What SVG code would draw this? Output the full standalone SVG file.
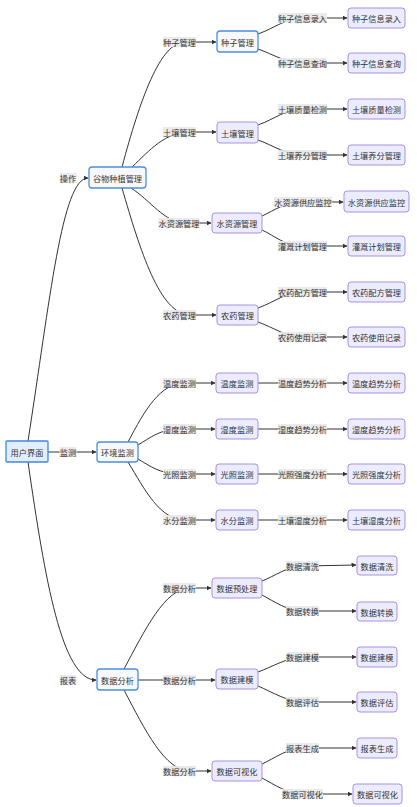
<svg xmlns="http://www.w3.org/2000/svg" width="417" height="807" viewBox="0 0 417 807">
<defs>
<marker id="arr" viewBox="0 0 10 10" refX="9" refY="5" markerWidth="5" markerHeight="5" markerUnits="userSpaceOnUse" orient="auto"><path d="M0,0 L10,5 L0,10 z" fill="#333"/></marker>
<style>
.e{fill:none;stroke:#333;stroke-width:1;marker-end:url(#arr)}
.n rect{fill:#ececff;stroke:#a990e3;stroke-width:1}
.b rect{fill:#f6f8fb;stroke:#4a8fe0;stroke-width:1.3}
.r rect{fill:#e2eeff;stroke:#3d88e8;stroke-width:1.3}
text{font-family:"Noto Sans CJK SC","Noto Sans",sans-serif;font-size:8.2px;fill:#333;text-anchor:middle;dominant-baseline:central}
.l rect{fill:#e8e8e8;opacity:0.9}
</style>
</defs>
<rect width="417" height="807" fill="#fff"/>
<g id="edges">
<path class="e" d="M28,441 C50,300 62,178 88,178"/>
<path class="e" d="M48,452 L96,452"/>
<path class="e" d="M28,462 C45,580 62,680 96,680"/>
<path class="e" d="M122,167 C140,100 160,42 185,42 L216,42"/>
<path class="e" d="M132,167 C150,150 165,132 190,132 L216,132"/>
<path class="e" d="M131,188 C150,200 165,223 185,223 L211,223"/>
<path class="e" d="M122,188 C140,250 160,315 190,315 L216,315"/>
<path class="e" d="M128,442 C145,410 160,383 185,383 L215,383"/>
<path class="e" d="M138,445 C150,438 160,429 180,429 L215,429"/>
<path class="e" d="M138,459 C150,466 160,474 180,474 L215,474"/>
<path class="e" d="M128,462 C145,490 160,520 185,520 L215,520"/>
<path class="e" d="M124,669 C145,630 165,588 190,588 L211,588"/>
<path class="e" d="M138,680 L215,680"/>
<path class="e" d="M124,690 C145,730 165,771 190,771 L211,771"/>
<path class="e" d="M258,34 C275,28 285,18 305,18 L347,18"/>
<path class="e" d="M258,49 C275,55 285,63 305,63 L347,63"/>
<path class="e" d="M258,125 C275,119 285,109 305,109 L347,109"/>
<path class="e" d="M258,140 C275,146 285,155 305,155 L347,155"/>
<path class="e" d="M262,216 C275,210 285,202 303,202 L343,202"/>
<path class="e" d="M262,230 C275,236 285,246 303,246 L347,246"/>
<path class="e" d="M258,308 C275,302 285,292 305,292 L347,292"/>
<path class="e" d="M258,322 C275,328 285,337 305,337 L347,337"/>
<path class="e" d="M258,383 L347,383"/>
<path class="e" d="M258,429 L347,429"/>
<path class="e" d="M258,474 L347,474"/>
<path class="e" d="M258,520 L347,520"/>
<path class="e" d="M262,581 C275,576 288,566 303,566 L356,565"/>
<path class="e" d="M262,595 C275,602 288,611 303,611 L356,611"/>
<path class="e" d="M258,672 C272,667 288,657 303,657 L356,657"/>
<path class="e" d="M258,686 C272,692 288,702 303,702 L356,702"/>
<path class="e" d="M262,764 C275,758 288,748 303,748 L356,748"/>
<path class="e" d="M262,778 C275,785 288,794 303,794 L352,794"/>
</g>
<g id="edge-labels">
<g class="l"><rect x="59.5" y="173" width="17" height="10"/><text x="68" y="178">操作</text></g>
<g class="l"><rect x="59.5" y="447" width="17" height="10"/><text x="68" y="452">监测</text></g>
<g class="l"><rect x="59.5" y="675" width="17" height="10"/><text x="68" y="680">报表</text></g>
<g class="l"><rect x="163" y="37" width="33" height="10"/><text x="179.5" y="42">种子管理</text></g>
<g class="l"><rect x="163" y="127" width="33" height="10"/><text x="179.5" y="132">土壤管理</text></g>
<g class="l"><rect x="158.5" y="218" width="41" height="10"/><text x="179" y="223">水资源管理</text></g>
<g class="l"><rect x="163" y="310" width="33" height="10"/><text x="179.5" y="315">农药管理</text></g>
<g class="l"><rect x="163" y="378" width="33" height="10"/><text x="179.5" y="383">温度监测</text></g>
<g class="l"><rect x="163" y="424" width="33" height="10"/><text x="179.5" y="429">湿度监测</text></g>
<g class="l"><rect x="163" y="469" width="33" height="10"/><text x="179.5" y="474">光照监测</text></g>
<g class="l"><rect x="163" y="515" width="33" height="10"/><text x="179.5" y="520">水分监测</text></g>
<g class="l"><rect x="163" y="583" width="33" height="10"/><text x="179.5" y="588">数据分析</text></g>
<g class="l"><rect x="163" y="675" width="33" height="10"/><text x="179.5" y="680">数据分析</text></g>
<g class="l"><rect x="163" y="766" width="33" height="10"/><text x="179.5" y="771">数据分析</text></g>
<g class="l"><rect x="278" y="13" width="49" height="10"/><text x="302.5" y="18">种子信息录入</text></g>
<g class="l"><rect x="278" y="58" width="49" height="10"/><text x="302.5" y="63">种子信息查询</text></g>
<g class="l"><rect x="278" y="104" width="49" height="10"/><text x="302.5" y="109">土壤质量检测</text></g>
<g class="l"><rect x="278" y="150" width="49" height="10"/><text x="302.5" y="155">土壤养分管理</text></g>
<g class="l"><rect x="274" y="197" width="58" height="10"/><text x="303" y="202">水资源供应监控</text></g>
<g class="l"><rect x="278" y="241" width="49" height="10"/><text x="302.5" y="246">灌溉计划管理</text></g>
<g class="l"><rect x="278" y="287" width="49" height="10"/><text x="302.5" y="292">农药配方管理</text></g>
<g class="l"><rect x="278" y="332" width="49" height="10"/><text x="302.5" y="337">农药使用记录</text></g>
<g class="l"><rect x="278" y="378" width="49" height="10"/><text x="302.5" y="383">温度趋势分析</text></g>
<g class="l"><rect x="278" y="424" width="49" height="10"/><text x="302.5" y="429">湿度趋势分析</text></g>
<g class="l"><rect x="278" y="469" width="49" height="10"/><text x="302.5" y="474">光照强度分析</text></g>
<g class="l"><rect x="278" y="515" width="49" height="10"/><text x="302.5" y="520">土壤湿度分析</text></g>
<g class="l"><rect x="286" y="561" width="33" height="10"/><text x="302.5" y="566">数据清洗</text></g>
<g class="l"><rect x="286" y="606" width="33" height="10"/><text x="302.5" y="611">数据转换</text></g>
<g class="l"><rect x="286" y="652" width="33" height="10"/><text x="302.5" y="657">数据建模</text></g>
<g class="l"><rect x="286" y="697" width="33" height="10"/><text x="302.5" y="702">数据评估</text></g>
<g class="l"><rect x="286" y="743" width="33" height="10"/><text x="302.5" y="748">报表生成</text></g>
<g class="l"><rect x="282" y="789" width="41" height="10"/><text x="302.5" y="794">数据可视化</text></g>
</g>
<g id="root" class="r"><rect x="6" y="441" width="42" height="21" rx="1"/><text x="27" y="451.5">用户界面</text></g>
<g id="n-gwzz" class="b"><rect x="89" y="167" width="57" height="21" rx="3"/><text x="117.5" y="177.5">谷物种植管理</text></g>
<g id="n-hjjc" class="b"><rect x="97" y="442" width="41" height="20" rx="3"/><text x="117.5" y="452">环境监测</text></g>
<g id="n-sjfx" class="b"><rect x="97" y="669" width="41" height="21" rx="3"/><text x="117.5" y="679.5">数据分析</text></g>
<g id="n-zzgl" class="b"><rect x="217" y="31" width="41" height="21" rx="3"/><text x="237.5" y="41.5">种子管理</text></g>
<g id="n-trgl" class="n"><rect x="217" y="122" width="41" height="21" rx="3"/><text x="237.5" y="132.5">土壤管理</text></g>
<g id="n-szygl" class="n"><rect x="212" y="213" width="50" height="20" rx="3"/><text x="237" y="223">水资源管理</text></g>
<g id="n-nygl" class="n"><rect x="217" y="305" width="41" height="20" rx="3"/><text x="237.5" y="315">农药管理</text></g>
<g id="n-wdjc" class="n"><rect x="216" y="373" width="42" height="20" rx="3"/><text x="237" y="383">温度监测</text></g>
<g id="n-sdjc" class="n"><rect x="216" y="419" width="42" height="20" rx="3"/><text x="237" y="429">湿度监测</text></g>
<g id="n-gzjc" class="n"><rect x="216" y="464" width="42" height="20" rx="3"/><text x="237" y="474">光照监测</text></g>
<g id="n-sfjc" class="n"><rect x="216" y="510" width="42" height="20" rx="3"/><text x="237" y="520">水分监测</text></g>
<g id="n-sjycl" class="n"><rect x="212" y="578" width="50" height="20" rx="3"/><text x="237" y="588">数据预处理</text></g>
<g id="n-sjjm" class="n"><rect x="216" y="669" width="42" height="20" rx="3"/><text x="237" y="679">数据建模</text></g>
<g id="n-sjksh" class="n"><rect x="212" y="761" width="50" height="20" rx="3"/><text x="237" y="771">数据可视化</text></g>
<g id="n-zzxxlr" class="n"><rect x="348" y="8" width="57" height="20" rx="3"/><text x="376.5" y="18">种子信息录入</text></g>
<g id="n-zzxxcx" class="n"><rect x="348" y="53" width="57" height="20" rx="3"/><text x="376.5" y="63">种子信息查询</text></g>
<g id="n-trzljc" class="n"><rect x="348" y="99" width="57" height="20" rx="3"/><text x="376.5" y="109">土壤质量检测</text></g>
<g id="n-tryfgl" class="n"><rect x="348" y="145" width="57" height="20" rx="3"/><text x="376.5" y="155">土壤养分管理</text></g>
<g id="n-szygyjk" class="n"><rect x="344" y="191" width="65" height="21" rx="3"/><text x="376.5" y="201.5">水资源供应监控</text></g>
<g id="n-ggjhgl" class="n"><rect x="348" y="236" width="57" height="20" rx="3"/><text x="376.5" y="246">灌溉计划管理</text></g>
<g id="n-nypfgl" class="n"><rect x="348" y="282" width="57" height="20" rx="3"/><text x="376.5" y="292">农药配方管理</text></g>
<g id="n-nysyjl" class="n"><rect x="348" y="327" width="57" height="20" rx="3"/><text x="376.5" y="337">农药使用记录</text></g>
<g id="n-wdqsfx" class="n"><rect x="348" y="373" width="57" height="20" rx="3"/><text x="376.5" y="383">温度趋势分析</text></g>
<g id="n-sdqsfx" class="n"><rect x="348" y="419" width="57" height="20" rx="3"/><text x="376.5" y="429">湿度趋势分析</text></g>
<g id="n-gzqdfx" class="n"><rect x="348" y="464" width="57" height="20" rx="3"/><text x="376.5" y="474">光照强度分析</text></g>
<g id="n-trsdfx" class="n"><rect x="348" y="510" width="57" height="20" rx="3"/><text x="376.5" y="520">土壤湿度分析</text></g>
<g id="n-sjqx" class="n"><rect x="357" y="556" width="40" height="19" rx="3"/><text x="377" y="565.5">数据清洗</text></g>
<g id="n-sjzh" class="n"><rect x="357" y="602" width="40" height="19" rx="3"/><text x="377" y="611.5">数据转换</text></g>
<g id="n-sjjm2" class="n"><rect x="357" y="647" width="40" height="20" rx="3"/><text x="377" y="657">数据建模</text></g>
<g id="n-sjpg" class="n"><rect x="357" y="692" width="40" height="20" rx="3"/><text x="377" y="702">数据评估</text></g>
<g id="n-bbsc" class="n"><rect x="357" y="738" width="40" height="20" rx="3"/><text x="377" y="748">报表生成</text></g>
<g id="n-sjksh2" class="n"><rect x="353" y="784" width="49" height="20" rx="3"/><text x="377.5" y="794">数据可视化</text></g>
</svg>
